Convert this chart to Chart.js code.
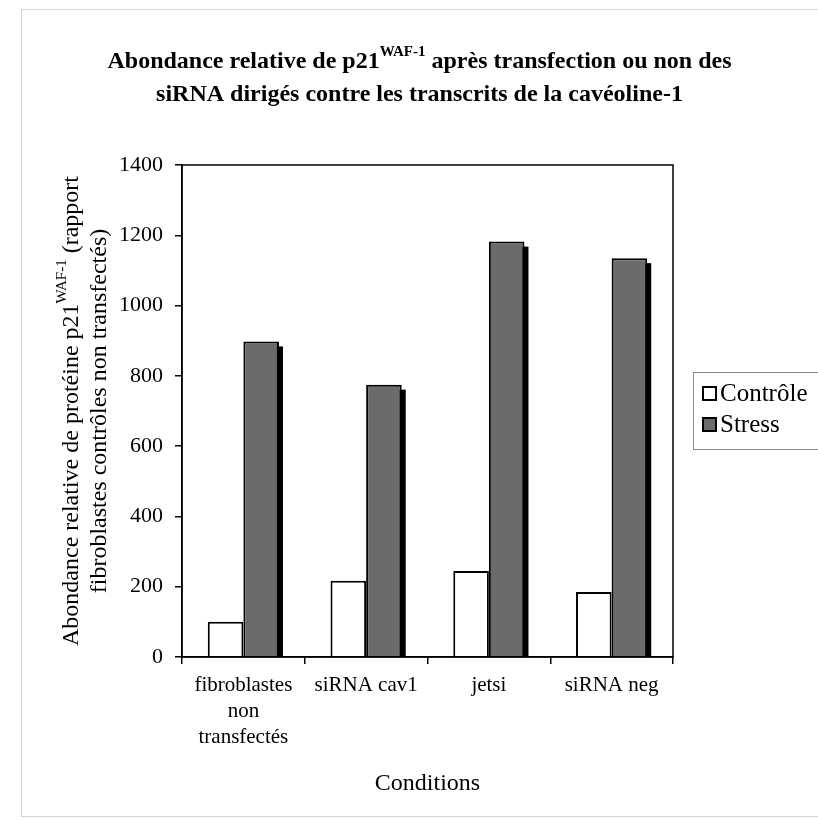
<!DOCTYPE html>
<html>
<head>
<meta charset="utf-8">
<script src="https://cdn.jsdelivr.net/npm/chart.js@4.4.1/dist/chart.umd.min.js"></script>
<style>
  html, body { margin: 0; padding: 0; background: #fff; }
  #wrap { position: relative; width: 818px; height: 820px; overflow: hidden; }
  #frame { position: absolute; left: 21px; top: 9px; width: 820px; height: 806px; border: 1px solid #d4d4d4; pointer-events: none; }
</style>
</head>
<body>
<div id="wrap">
  <canvas id="chart" width="818" height="820"></canvas>
  <div id="frame"></div>
</div>
<script>
const FONT = "'Liberation Serif', 'Times New Roman', serif";

const categories = [['fibroblastes', 'non', 'transfectés'], 'siRNA cav1', 'jetsi', 'siRNA neg'];
const controleValues = [100, 217, 245, 185];
const stressValues = [898, 775, 1182, 1135];
const seriesLabels = ['Contrôle', 'Stress'];
const yMin = 0;
const yMax = 1400;
const yStep = 200;

const titleLine1 = [{ text: 'Abondance relative de p21' }, { text: 'WAF-1', sup: true }, { text: ' après transfection ou non des' }];
const titleLine2 = [{ text: 'siRNA dirigés contre les transcrits de la cavéoline-1' }];
const yTitleLine1 = [{ text: 'Abondance relative de protéine p21' }, { text: 'WAF-1', sup: true }, { text: ' (rapport' }];
const yTitleLine2 = [{ text: 'fibroblastes contrôles non transfectés)' }];
const xTitle = 'Conditions';

function fontStr(size, bold) {
  return (bold ? 'bold ' : '') + size + 'px ' + FONT;
}

// centred text with superscript pieces
function drawRich(ctx, parts, cx, cy, size, bold) {
  const supSize = Math.round(size * 0.62);
  let total = 0;
  parts.forEach((p) => {
    ctx.font = fontStr(p.sup ? supSize : size, bold);
    p.w = ctx.measureText(p.text).width;
    total += p.w;
  });
  let x = cx - total / 2;
  ctx.textAlign = 'left';
  ctx.textBaseline = 'middle';
  ctx.fillStyle = '#000';
  parts.forEach((p) => {
    ctx.font = fontStr(p.sup ? supSize : size, bold);
    ctx.fillText(p.text, x, p.sup ? cy - size * 0.42 : cy);
    x += p.w;
  });
}

// black drop shadow behind the Stress bars
const shadowPlugin = {
  id: 'barShadow',
  beforeDatasetDraw(chart, args) {
    if (args.index !== 1) return;
    const ctx = chart.ctx;
    const area = chart.chartArea;
    ctx.save();
    ctx.beginPath();
    ctx.rect(area.left, area.top, area.right - area.left, area.bottom - area.top);
    ctx.clip();
    ctx.fillStyle = '#000';
    args.meta.data.forEach((bar) => {
      const { x, y, base, width } = bar.getProps(['x', 'y', 'base', 'width'], true);
      ctx.fillRect(x - width / 2 + 4, y + 5, width, base - y - 5);
    });
    ctx.restore();
  },
};

const decorPlugin = {
  id: 'decor',
  afterDraw(chart) {
    const ctx = chart.ctx;
    const area = chart.chartArea;
    const midY = (area.top + area.bottom) / 2;

    // plot area box
    ctx.save();
    ctx.strokeStyle = '#000';
    ctx.lineWidth = 1.5;
    ctx.strokeRect(area.left, area.top, area.right - area.left, area.bottom - area.top);
    ctx.restore();

    // title
    const titleX = (21 + chart.width) / 2;
    drawRich(ctx, titleLine1, titleX, 62, 24, true);
    drawRich(ctx, titleLine2, titleX, 95, 24, true);

    // y-axis title
    ctx.save();
    ctx.translate(area.left - 110, midY);
    ctx.rotate(-Math.PI / 2);
    drawRich(ctx, yTitleLine1, 0, 0, 24, false);
    ctx.restore();
    ctx.save();
    ctx.translate(area.left - 82, midY);
    ctx.rotate(-Math.PI / 2);
    drawRich(ctx, yTitleLine2, 0, 0, 24, false);
    ctx.restore();

    // legend
    const lx = area.right + 20;
    const ly = midY - 39;
    ctx.save();
    ctx.strokeStyle = '#8a8a8a';
    ctx.lineWidth = 1;
    ctx.strokeRect(lx + 0.5, ly + 0.5, chart.width - lx + 5, 77);
    chart.data.datasets.forEach((ds, i) => {
      const cy = ly + 22 + i * 31;
      ctx.fillStyle = ds.backgroundColor;
      ctx.fillRect(lx + 10, cy - 7, 13, 13);
      ctx.strokeStyle = '#000';
      ctx.lineWidth = 2;
      ctx.strokeRect(lx + 10, cy - 7, 13, 13);
      ctx.fillStyle = '#000';
      ctx.font = fontStr(25, false);
      ctx.textAlign = 'left';
      ctx.textBaseline = 'middle';
      ctx.fillText(ds.label, lx + 27, cy);
    });
    ctx.restore();
  },
};

new Chart(document.getElementById('chart'), {
  type: 'bar',
  data: {
    labels: categories,
    datasets: [
      {
        label: seriesLabels[0],
        data: controleValues,
        backgroundColor: '#ffffff',
        borderColor: '#000000',
        borderWidth: 2,
      },
      {
        label: seriesLabels[1],
        data: stressValues,
        backgroundColor: '#6b6b6b',
        borderColor: '#000000',
        borderWidth: 2,
      },
    ],
  },
  options: {
    responsive: false,
    animation: false,
    categoryPercentage: 0.58,
    barPercentage: 1.0,
    layout: {
      padding: { top: 165, left: 20, right: 145, bottom: 22 },
    },
    plugins: {
      legend: { display: false },
      title: { display: false },
      tooltip: { enabled: false },
    },
    scales: {
      x: {
        grid: {
          drawOnChartArea: false,
          offset: true,
          tickLength: 7,
          color: '#000',
          lineWidth: 1.5,
        },
        border: { color: '#000', width: 1.5 },
        ticks: {
          color: '#000',
          font: { family: FONT, size: 21, lineHeight: 1.25 },
          padding: 8,
          maxRotation: 0,
          autoSkip: false,
        },
        title: {
          display: true,
          text: xTitle,
          color: '#000',
          font: { family: FONT, size: 24 },
          padding: { top: 4, bottom: 0 },
        },
        afterFit(scale) {
          scale.height = 820 - 657 - 22;
        },
      },
      y: {
        min: yMin,
        max: yMax,
        grid: {
          drawOnChartArea: false,
          tickLength: 7,
          color: '#000',
          lineWidth: 1.5,
        },
        border: { color: '#000', width: 1.5 },
        ticks: {
          stepSize: yStep,
          color: '#000',
          font: { family: FONT, size: 22 },
          padding: 12,
          callback: (value) => String(value),
        },
        afterFit(scale) {
          scale.width = 182 - 20;
        },
      },
    },
  },
  plugins: [shadowPlugin, decorPlugin],
});
</script>
</body>
</html>
